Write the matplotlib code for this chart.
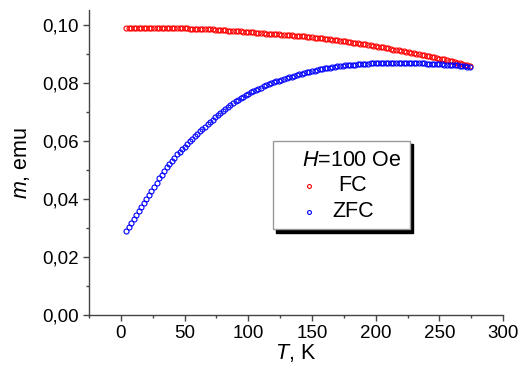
import matplotlib
matplotlib.use("Agg")
import matplotlib.pyplot as plt
from matplotlib.ticker import MultipleLocator, FuncFormatter
from matplotlib.patches import Rectangle

plt.rcParams['font.family'] = ['Liberation Sans', 'DejaVu Sans']
plt.rcParams['mathtext.fontset'] = 'custom'
plt.rcParams['mathtext.rm'] = 'Liberation Sans'
plt.rcParams['mathtext.it'] = 'Liberation Sans:italic'

# temperatura, K
T = [4, 6, 8, 10, 12, 14, 16, 18, 20, 22, 24, 26, 28, 30, 32, 34, 36, 38, 40, 42,
     44, 46, 48, 50, 52, 54, 56, 58, 60, 62, 64, 66, 68, 70, 72, 74, 76, 78, 80, 82,
     84, 86, 88, 90, 92, 94, 96, 98, 100, 102, 104, 106, 108, 110, 112, 114, 116, 118, 120, 122,
     124, 126, 128, 130, 132, 134, 136, 138, 140, 142, 144, 146, 148, 150, 152, 154, 156, 158, 160, 162,
     164, 166, 168, 170, 172, 174, 176, 178, 180, 182, 184, 186, 188, 190, 192, 194, 196, 198, 200, 202,
     204, 206, 208, 210, 212, 214, 216, 218, 220, 222, 224, 226, 228, 230, 232, 234, 236, 238, 240, 242,
     244, 246, 248, 250, 252, 254, 256, 258, 260, 262, 264, 266, 268, 270, 272, 274]

# FC, emu
fc = [.0989, .0989, .0988, .0989, .0988, .0989, .0988, .0989, .0989, .0988,
      .0989, .0988, .0988, .0989, .0988, .0988, .0988, .0988, .0988, .0987,
      .0988, .0987, .0987, .0987, .0987, .0986, .0986, .0986, .0985, .0985,
      .0984, .0984, .0984, .0983, .0983, .0982, .0982, .0981, .0981, .0980,
      .0979, .0979, .0978, .0977, .0977, .0976, .0975, .0975, .0974, .0973,
      .0973, .0972, .0971, .0971, .0970, .0969, .0969, .0968, .0968, .0967,
      .0966, .0965, .0965, .0964, .0963, .0963, .0962, .0961, .0960, .0960,
      .0959, .0958, .0957, .0956, .0955, .0954, .0953, .0952, .0951, .0950,
      .0949, .0948, .0947, .0946, .0944, .0943, .0942, .0941, .0939, .0938,
      .0937, .0936, .0934, .0933, .0932, .0930, .0929, .0927, .0926, .0924,
      .0923, .0921, .0919, .0918, .0916, .0914, .0913, .0911, .0909, .0908,
      .0906, .0904, .0903, .0901, .0899, .0897, .0896, .0894, .0892, .0891,
      .0889, .0887, .0885, .0883, .0882, .0880, .0878, .0876, .0874, .0871,
      .0869, .0867, .0864, .0862, .0859, .0857]

# ZFC, emu
zfc = [.0290, .0303, .0317, .0330, .0344, .0357, .0371, .0384, .0399, .0413,
       .0428, .0442, .0456, .0470, .0483, .0497, .0509, .0520, .0531, .0542,
       .0553, .0562, .0571, .0580, .0589, .0598, .0607, .0615, .0624, .0632,
       .0640, .0648, .0657, .0665, .0673, .0680, .0688, .0695, .0703, .0709,
       .0716, .0723, .0729, .0736, .0741, .0746, .0752, .0757, .0762, .0766,
       .0770, .0775, .0779, .0783, .0787, .0791, .0794, .0798, .0801, .0804,
       .0807, .0810, .0813, .0816, .0818, .0821, .0823, .0825, .0828, .0830,
       .0832, .0835, .0837, .0839, .0841, .0844, .0846, .0847, .0849, .0851,
       .0852, .0854, .0855, .0856, .0857, .0858, .0859, .0860, .0861, .0862,
       .0862, .0863, .0864, .0864, .0865, .0865, .0866, .0866, .0866, .0866,
       .0867, .0867, .0867, .0868, .0867, .0868, .0868, .0868, .0868, .0867,
       .0868, .0867, .0867, .0867, .0867, .0866, .0866, .0866, .0865, .0865,
       .0865, .0865, .0864, .0864, .0863, .0862, .0862, .0861, .0861, .0860,
       .0859, .0858, .0857, .0856, .0855, .0853]

fig = plt.figure(figsize=(5.21, 3.69), dpi=100)
ax = fig.add_axes([0.171, 0.1463, 0.7945, 0.8266])

ax.plot(T, fc, 'o', ms=3.6, mfc='none', mec='#ff0000', mew=0.8)
ax.plot(T, zfc, 'o', ms=3.6, mfc='none', mec='#0000ff', mew=0.8)

ax.set_xlim(-25, 300)
ax.set_ylim(0, 0.105)
ax.xaxis.set_major_locator(MultipleLocator(50))
ax.xaxis.set_minor_locator(MultipleLocator(25))
ax.yaxis.set_major_locator(MultipleLocator(0.02))
ax.yaxis.set_minor_locator(MultipleLocator(0.01))
ax.yaxis.set_major_formatter(FuncFormatter(lambda v, p: ('%.2f' % v).replace('.', ',')))

for s in ['top', 'right']:
    ax.spines[s].set_visible(False)
for s in ['left', 'bottom']:
    ax.spines[s].set_color('#444444')
    ax.spines[s].set_linewidth(1.0)
ax.tick_params(which='major', direction='out', length=4.5, width=1, color='#444444', labelsize=13.5, pad=3)
ax.tick_params(which='minor', direction='out', length=2.5, width=1, color='#444444')

ax.set_xlabel('$\\mathit{T}$, K', fontsize=15.5, labelpad=0)
ax.set_ylabel('$\\mathit{m}$, emu', fontsize=15.5, labelpad=7)

# legenda desenhada a mao (estilo Origin)
x0, x1, y0, y1 = 0.4437, 0.775, 0.282, 0.5715
ax.add_patch(Rectangle((x0 + 0.0085, y0 - 0.0115), x1 - x0, y1 - y0, transform=ax.transAxes,
                       facecolor='black', edgecolor='black', zorder=5, clip_on=False))
ax.add_patch(Rectangle((x0, y0), x1 - x0, y1 - y0, transform=ax.transAxes,
                       facecolor='white', edgecolor='#999999', lw=1, zorder=6, clip_on=False))
ax.text(0.634, 0.508, '$\\mathit{H}$=100 Oe', transform=ax.transAxes, ha='center', va='center',
        fontsize=15.5, zorder=7)
ax.plot([0.531], [0.423], 'o', ms=2.8, mfc='none', mec='#ff0000', mew=0.8, transform=ax.transAxes, zorder=7)
ax.plot([0.531], [0.339], 'o', ms=2.8, mfc='none', mec='#0000ff', mew=0.8, transform=ax.transAxes, zorder=7)
ax.text(0.637, 0.423, 'FC', transform=ax.transAxes, ha='center', va='center', fontsize=15.5, zorder=7)
ax.text(0.637, 0.339, 'ZFC', transform=ax.transAxes, ha='center', va='center', fontsize=15.5, zorder=7)

fig.savefig('out.png', dpi=100)
